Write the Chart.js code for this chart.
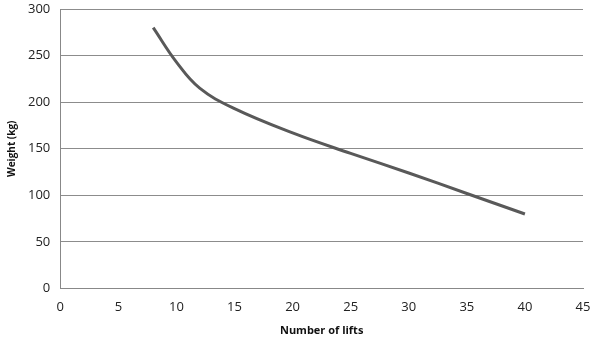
<!DOCTYPE html>
<html>
<head>
<meta charset="utf-8">
<script src="https://cdn.jsdelivr.net/npm/chart.js@4/dist/chart.umd.min.js"></script>
<style>
  body { margin: 0; background: #fff; }
  #wrap { width: 591px; height: 337px; }
</style>
</head>
<body>
<div id="wrap"><canvas id="liftChart" width="591" height="337"></canvas></div>
<script>
// lifts vs weight
const lifts = [8, 10, 12, 15, 20, 25, 30, 35, 40];
const weights = [280, 243, 215, 193, 167, 145, 124, 102, 80];

const xTicks = [0, 5, 10, 15, 20, 25, 30, 35, 40, 45];
const yTicks = [0, 50, 100, 150, 200, 250, 300];

const points = lifts.map((x, i) => ({ x: x, y: weights[i] }));

const ctx = document.getElementById('liftChart').getContext('2d');
const liftChart = new Chart(ctx, {
  type: 'scatter',
  data: {
    datasets: [
      {
        label: 'Weight',
        data: points,
        showLine: true,
        borderColor: '#595959',
        borderWidth: 3,
        pointRadius: 0,
        pointHoverRadius: 0,
        tension: 0.4,
        fill: false
      }
    ]
  },
  options: {
    responsive: false,
    animation: false,
    layout: { padding: { top: 0, right: 0, left: 6, bottom: 0 } },
    plugins: {
      legend: { display: false },
      tooltip: { enabled: false }
    },
    scales: {
      x: {
        type: 'linear',
        min: 0,
        max: 45,
        afterBuildTicks: (axis) => { axis.ticks = xTicks.map(v => ({ value: v })); },
        // tick padding gets added to the side room, keep only half a label
        afterFit: (axis) => { axis.paddingRight = 8; },
        grid: { display: false, drawTicks: false },
        border: { display: true, color: '#888888', width: 1 },
        ticks: { color: '#222', padding: 11, font: { family: 'Open Sans', size: 13 } },
        title: {
          display: true,
          text: 'Number of lifts',
          color: '#111',
          padding: { top: 0, bottom: 1 },
          font: { family: 'Open Sans', size: 11, weight: 'bold', lineHeight: 0.9 }
        }
      },
      y: {
        min: 0,
        max: 300,
        afterBuildTicks: (axis) => { axis.ticks = yTicks.map(v => ({ value: v })); },
        afterFit: (axis) => { axis.paddingTop = 9; axis.paddingBottom = 8; },
        grid: { color: '#8c8c8c', lineWidth: 1, drawTicks: false },
        border: { display: true, color: '#888888', width: 1 },
        ticks: { color: '#222', padding: 10, font: { family: 'Open Sans', size: 13 } },
        title: {
          display: true,
          text: 'Weight (kg)',
          color: '#111',
          padding: { top: 0, bottom: 0 },
          font: { family: 'Open Sans', size: 10, weight: 'bold' }
        }
      }
    }
  }
});
</script>
</body>
</html>
